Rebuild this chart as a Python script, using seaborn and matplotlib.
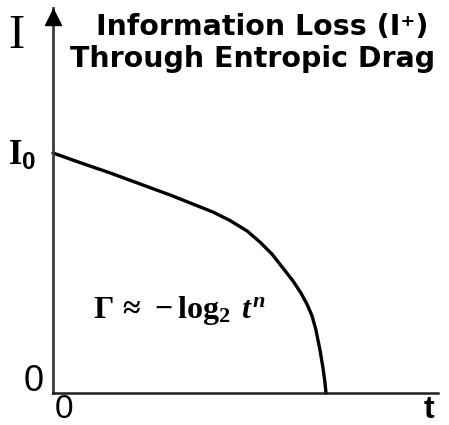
import matplotlib
matplotlib.use("Agg")
import matplotlib.pyplot as plt
import seaborn as sns
import pandas as pd

# Information remaining I over time t (t scaled so the collapse happens at t = 1,
# I scaled so that I0 = 1)
t_vals = [0.0, 0.099, 0.209, 0.319, 0.429, 0.502, 0.586, 0.648, 0.711,
          0.758, 0.802, 0.842, 0.879, 0.908, 0.930, 0.949, 0.963, 0.978,
          0.989, 0.996, 1.0]
i_vals = [1.0, 0.960, 0.917, 0.871, 0.825, 0.792, 0.754, 0.719, 0.675,
          0.629, 0.579, 0.521, 0.467, 0.417, 0.371, 0.321, 0.263, 0.179,
          0.104, 0.046, 0.0]

title_lines = ["Information Loss (I\u207a)", "Through Entropic Drag"]
formula = r"$\Gamma\,\approx\,-\log_{2}\;t^{n}$"
i0_label = r"$\mathrm{I}_{\mathsf{0}}$"

sns.set_style("white")
plt.rcParams["font.family"] = ["Liberation Sans", "DejaVu Sans"]
plt.rcParams["text.color"] = "black"
plt.rcParams["mathtext.fontset"] = "custom"
plt.rcParams["mathtext.rm"] = "Liberation Serif:bold"
plt.rcParams["mathtext.it"] = "Liberation Serif:italic:bold"
plt.rcParams["mathtext.bf"] = "Liberation Serif:bold"
plt.rcParams["mathtext.sf"] = "Liberation Sans:bold"

W, H = 449, 425
fig = plt.figure(figsize=(W / 100, H / 100), dpi=100)

def fx(px):
    return px / W

def fy(py):
    return 1 - py / H

# axes: origin at pixel (53, 393), x-axis reaching 438, y-axis reaching the arrow tip at 8
ax = fig.add_axes([fx(53), fy(393), (438 - 53) / W, (393 - 8) / H])
x_max = (438 - 53) / 273
y_max = (393 - 8) / 240
ax.set_xlim(0, x_max)
ax.set_ylim(0, y_max)

df = pd.DataFrame({"t": t_vals, "I": i_vals})
sns.lineplot(data=df, x="t", y="I", sort=False, color="black", lw=2.4,
             ax=ax, clip_on=False)

for side in ("top", "right"):
    ax.spines[side].set_visible(False)
ax.spines["left"].set_color("#3c3c3c")
ax.spines["left"].set_linewidth(2.0)
ax.spines["bottom"].set_color("#1e1e1e")
ax.spines["bottom"].set_linewidth(1.8)
ax.set_xticks([])
ax.set_yticks([])
ax.set_xlabel("")
ax.set_ylabel("")
ax.patch.set_alpha(0)

# arrowhead on the I axis
ax.plot([0], [y_max - 8.5 / 240], marker="^", ms=12.2, color="black",
        clip_on=False, zorder=5)

# axis labels
fig.text(fx(16), fy(48), "I", family="Liberation Serif", fontsize=35,
         ha="center", va="baseline")
fig.text(fx(8), fy(165), i0_label, fontsize=25, ha="left", va="baseline")
fig.text(fx(34), fy(391), "0", fontsize=26, ha="center", va="baseline")
fig.text(fx(64), fy(418), "0", fontsize=24, ha="center", va="baseline")
fig.text(fx(429), fy(418), "t", fontsize=23, weight="bold",
         ha="center", va="baseline")

# title
fig.text(fx(262), fy(35), title_lines[0], family=["DejaVu Sans"],
         fontsize=20.5, weight="bold", ha="center", va="baseline")
fig.text(fx(253), fy(67), title_lines[1], family=["DejaVu Sans"],
         fontsize=20.5, weight="bold", ha="center", va="baseline")

# formula
fig.text(fx(93), fy(318), formula, fontsize=23, ha="left", va="baseline")

fig.savefig("out.png", dpi=100)
